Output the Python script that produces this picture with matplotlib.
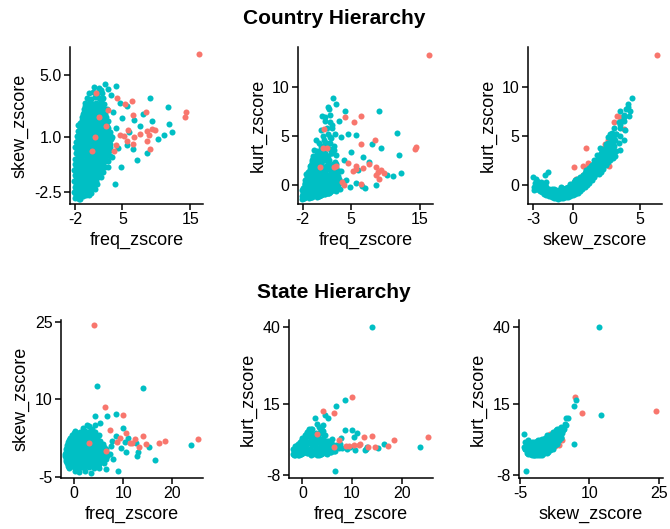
import matplotlib
matplotlib.use("Agg")
import matplotlib.pyplot as plt

plt.rcParams['font.family'] = ['Liberation Sans', 'DejaVu Sans']
plt.rcParams['axes.unicode_minus'] = False

TEAL = '#00BFC4'
SALMON = '#F8766D'

# ---- Country hierarchy: teal group (dense core + scattered) ----
country_teal_freq = [
    -2.0, -1.6, -1.2, -0.8, -1.4, -1.8,
    -2.1, -1.6, -1.1, -0.6, -0.1, 0.4,
    -2.0, -1.5, -1.0, -0.4, 0.2, 0.8, -1.2, -0.5,
    -2.1, -1.7, -1.2, -0.7, -0.1, 0.5, 1.1,
    -2.0, -1.4, -0.9, -0.3, 0.3, 0.9, 1.5,
    -2.1, -1.6, -1.1, -0.5, 0.1, 0.7, 1.3, 1.9,
    -2.0, -1.4, -0.8, -0.2, 0.4, 1.0, 1.6, 2.2,
    -2.0, -1.5, -0.9, -0.3, 0.3, 0.9, 1.5, 2.1, 2.6,
    -1.9, -1.3, -0.7, -0.1, 0.5, 1.1, 1.7, 2.3, 2.9,
    -2.0, -1.5, -0.9, -0.3, 0.3, 0.9, 1.5, 2.1, 2.7, 3.2,
    -1.8, -1.2, -0.6, 0.0, 0.6, 1.2, 1.8, 2.4, 3.0,
    -1.7, -1.1, -0.5, 0.1, 0.7, 1.3, 1.9, 2.5, 3.1,
    -1.6, -1.0, -0.4, 0.2, 0.8, 1.4, 2.0, 2.6, 3.2,
    -1.5, -0.9, -0.3, 0.3, 0.9, 1.5, 2.1, 2.7,
    -1.0, -0.5, 0.1, 0.6, 1.1, 1.7, 2.3, 2.9,
    -0.8, -0.2, 0.3, 0.8, 1.3, 1.9, 2.5,
    -0.6, 0.0, 0.5, 1.0, 1.5, 2.1, 2.7,
    -0.5, 0.1, 0.6, 1.1, 1.7, 2.3,
    -0.3, 0.3, 0.9, 1.5, 2.0,
    0.0, 0.7, 1.3, 2.0,
    0.8, 1.6,
    2.4, 4.1, 2.8, 1.8, 1.3, 2.2, 4.6, 5.7, 6.7, 8.1, 9.3, 11.7, 11.9, 12.3,
    11.1, 10.3, 8.7, 7.1, 6.6, 5.7, 3.9, 2.8, 9.0, 3.6, 4.0, 5.0, 3.5, 4.3,
    7.6, 6.0, 3.4, 4.8, 3.3,
]
country_teal_skew = [
    -2.9, -2.85, -2.95, -2.8, -3.0, -2.7,
    -2.5, -2.45, -2.55, -2.4, -2.5, -2.6,
    -2.2, -2.15, -2.25, -2.1, -2.2, -2.15, -1.9, -2.1,
    -1.8, -1.85, -1.75, -1.8, -1.85, -1.75, -1.8,
    -1.45, -1.5, -1.4, -1.45, -1.5, -1.4, -1.45,
    -1.1, -1.05, -1.15, -1.1, -1.05, -1.15, -1.1, -1.05,
    -0.75, -0.8, -0.7, -0.75, -0.8, -0.7, -0.75, -0.8,
    -0.4, -0.35, -0.45, -0.4, -0.35, -0.45, -0.4, -0.35, -0.45,
    0.0, 0.05, -0.05, 0.0, 0.05, -0.05, 0.0, 0.05, -0.05,
    0.35, 0.3, 0.4, 0.35, 0.3, 0.4, 0.35, 0.3, 0.4, 0.35,
    0.7, 0.75, 0.65, 0.7, 0.75, 0.65, 0.7, 0.75, 0.65,
    1.05, 1.0, 1.1, 1.05, 1.0, 1.1, 1.05, 1.0, 1.1,
    1.4, 1.45, 1.35, 1.4, 1.45, 1.35, 1.4, 1.45, 1.35,
    1.75, 1.7, 1.8, 1.75, 1.7, 1.8, 1.75, 1.7,
    2.1, 2.05, 2.15, 2.1, 2.05, 2.15, 2.1, 2.05,
    2.45, 2.5, 2.4, 2.45, 2.5, 2.4, 2.45,
    2.8, 2.75, 2.85, 2.8, 2.75, 2.85, 2.8,
    3.15, 3.2, 3.1, 3.15, 3.2, 3.1,
    3.5, 3.45, 3.55, 3.5, 3.45,
    3.85, 3.9, 3.8, 3.85,
    4.2, 4.15,
    4.4, 4.3, 4.1, 4.0, 3.8, 3.5, 3.2, 3.0, 2.1, 2.5, 2.0, 2.9, 1.8, 1.3,
    1.1, 0.9, -0.05, -0.5, 0.25, 0.5, -2.0, -0.9, 3.5, 2.6, 1.6, 2.2, 1.0, 0.3,
    1.7, 1.3, -0.3, -0.9, 3.7,
]
country_teal_kurt = [
    -0.5, 0.2, -0.2, 0.6, 0.8, -0.4,
    -0.5, 0.1, -0.3, 0.3, -0.6, 0.0,
    -0.9, -0.3, -0.7, 0.0, -0.5, -0.2, 1.3, 1.0,
    -1.1, -0.6, -1.0, -0.4, -0.8, -0.5, -0.9,
    -1.3, -0.8, -1.1, -0.6, -1.0, -0.4, -0.7,
    -1.4, -1.1, -1.3, -0.8, -1.2, -0.6, -0.9, -0.5,
    -1.3, -1.0, -1.2, -0.7, -1.1, -0.5, -0.8, -0.3,
    -1.2, -0.9, -1.1, -0.6, -0.9, -0.4, -0.7, -0.2, -0.5,
    -1.0, -0.7, -0.9, -0.3, -0.6, 0.0, -0.4, 0.3, -0.2,
    -0.8, -0.5, -0.6, 0.0, -0.3, 0.4, -0.1, 0.6, 0.1, 0.3,
    -0.4, 0.2, -0.2, 0.5, 0.0, 0.8, 0.3, 1.0, 0.4,
    0.0, 0.6, 0.2, 1.0, 0.4, 1.3, 0.7, 1.5, 0.9,
    0.5, 1.2, 0.7, 1.6, 0.9, 1.9, 1.1, 2.0, 1.4,
    1.1, 1.9, 1.3, 2.3, 1.5, 2.6, 1.8, 2.4,
    1.3, 1.6, 1.9, 2.3, 2.6, 3.0, 3.3, 3.1,
    2.0, 2.3, 2.6, 3.0, 3.3, 3.7, 4.0,
    2.6, 2.9, 3.3, 3.8, 4.3, 4.8, 5.2,
    3.0, 3.5, 4.0, 4.6, 5.2, 5.8,
    3.6, 4.3, 5.0, 5.8, 6.4,
    4.6, 5.6, 6.5, 7.2,
    7.0, 8.0,
    8.85, 7.6, 8.3, 7.8, 6.9, 6.1, 5.2, 5.1, 2.9, 4.2, 3.8, 5.3, 3.1, 1.2,
    0.9, 1.0, 0.0, -0.35, -0.1, 0.2, 0.3, -0.5, 7.6, 4.9, 2.6, 3.4, 1.4, 0.5,
    2.4, 1.5, -0.4, -0.2, 6.5,
]
# extra points that sit between the rows of the dense country core
country_fill_freq = [
    -1.9, -1.4, -0.9, -0.4, 0.1,
    -1.8, -1.3, -0.8, -0.2, 0.4, 1.0,
    -1.8, -1.4, -0.9, -0.3, 0.3, 0.9, 1.3,
    -1.9, -1.5, -1.0, -0.4, 0.2, 0.8, 1.4, 1.8,
    -1.8, -1.3, -0.8, -0.2, 0.4, 1.0, 1.6, 2.1,
    -1.8, -1.2, -0.6, 0.0, 0.6, 1.2, 1.8, 2.4,
    -1.7, -1.1, -0.5, 0.1, 0.7, 1.3, 1.9, 2.4, 2.9,
    -1.6, -1.0, -0.4, 0.2, 0.8, 1.4, 2.0, 2.6, 3.1,
    -1.7, -1.1, -0.5, 0.1, 0.7, 1.3, 1.9, 2.5, 3.1,
    -1.6, -1.0, -0.4, 0.2, 0.8, 1.4, 2.0, 2.6, 3.2,
    -1.5, -0.9, -0.3, 0.3, 0.9, 1.5, 2.1, 2.7, 3.3,
    -1.4, -0.8, -0.2, 0.4, 1.0, 1.6, 2.2, 2.8,
    -1.3, -0.7, -0.1, 0.5, 1.1, 1.7, 2.3, 2.9,
    -1.2, -0.6, 0.0, 0.6, 1.2, 1.8, 2.4,
    -0.9, -0.3, 0.3, 0.9, 1.5, 2.1, 2.6,
    -0.7, -0.1, 0.4, 0.9, 1.5, 2.0,
    -0.5, 0.1, 0.7, 1.3, 1.9,
]
country_fill_skew = [
    -2.7, -2.7, -2.7, -2.7, -2.7,
    -2.35, -2.35, -2.35, -2.35, -2.35, -2.35,
    -2.0, -2.0, -2.0, -2.0, -2.0, -2.0, -2.0,
    -1.6, -1.6, -1.6, -1.6, -1.6, -1.6, -1.6, -1.6,
    -1.25, -1.25, -1.25, -1.25, -1.25, -1.25, -1.25, -1.25,
    -0.9, -0.9, -0.9, -0.9, -0.9, -0.9, -0.9, -0.9,
    -0.55, -0.55, -0.55, -0.55, -0.55, -0.55, -0.55, -0.55, -0.55,
    -0.2, -0.2, -0.2, -0.2, -0.2, -0.2, -0.2, -0.2, -0.2,
    0.18, 0.18, 0.18, 0.18, 0.18, 0.18, 0.18, 0.18, 0.18,
    0.52, 0.52, 0.52, 0.52, 0.52, 0.52, 0.52, 0.52, 0.52,
    0.88, 0.88, 0.88, 0.88, 0.88, 0.88, 0.88, 0.88, 0.88,
    1.22, 1.22, 1.22, 1.22, 1.22, 1.22, 1.22, 1.22,
    1.58, 1.58, 1.58, 1.58, 1.58, 1.58, 1.58, 1.58,
    1.92, 1.92, 1.92, 1.92, 1.92, 1.92, 1.92,
    2.28, 2.28, 2.28, 2.28, 2.28, 2.28, 2.28,
    2.62, 2.62, 2.62, 2.62, 2.62, 2.62,
    2.98, 2.98, 2.98, 2.98, 2.98,
]
country_fill_kurt = [
    -0.3, 0.4, -0.1, 0.1, -0.4,
    -0.7, -0.1, -0.5, 0.2, -0.3, -0.6,
    -1.0, -0.4, -0.8, -0.2, -0.6, -0.3, -0.7,
    -1.2, -0.7, -1.1, -0.5, -0.9, -0.4, -0.8, -0.6,
    -1.35, -0.9, -1.2, -0.7, -1.1, -0.5, -0.8, -0.6,
    -1.3, -1.0, -1.2, -0.6, -1.0, -0.5, -0.8, -0.4,
    -1.2, -0.9, -1.1, -0.6, -1.0, -0.4, -0.7, -0.3, -0.6,
    -1.1, -0.8, -1.0, -0.4, -0.8, -0.2, -0.5, 0.1, -0.3,
    -0.9, -0.6, -0.8, -0.2, -0.5, 0.2, -0.2, 0.5, 0.0,
    -0.6, -0.2, -0.4, 0.2, -0.1, 0.6, 0.1, 0.8, 0.2,
    -0.2, 0.4, 0.0, 0.7, 0.2, 1.0, 0.5, 1.2, 0.6,
    0.2, 0.9, 0.4, 1.3, 0.6, 1.6, 0.9, 1.7,
    0.8, 1.5, 1.0, 1.9, 1.2, 2.2, 1.4, 2.1,
    1.1, 1.6, 1.6, 2.2, 1.8, 2.6, 2.1,
    1.6, 1.9, 2.2, 2.6, 2.9, 3.3, 3.6,
    2.3, 2.6, 3.0, 3.4, 3.9, 4.3,
    2.8, 3.2, 3.7, 4.3, 4.9,
]

# ---- Country hierarchy: salmon group ----
country_red_freq = [16.3, 1.1, 4.2, 6.4, 5.4, 8.5, 1.5, 6.5, 14.4, 14.3, 2.6, 3.7, 5.7, 6.7, 8.7,
                    9.4, 9.8, 8.9, 7.6, 8.7, 9.1, 5.3, 5.8, 6.5, 4.0, 4.6, 2.8, 1.0, 0.5]
country_red_skew = [6.3, 3.8, 3.5, 3.3, 3.1, 2.6, 2.3, 2.4, 2.6, 2.3, 1.7, 0.1, 0.75, 1.0, 1.4,
                    1.5, 1.45, 1.1, 1.2, 0.75, 0.2, 1.05, 1.45, 0.55, 0.5, 1.1, 2.7, 1.0, 0.1]
country_red_kurt = [13.3, 5.7, 6.9, 7.1, 6.4, 4.6, 3.8, 4.2, 3.9, 3.7, 1.8, 0.3, 1.9, 1.7, 1.8,
                    1.5, 1.2, 1.3, 2.1, 1.0, 0.6, 1.4, 1.6, 0.1, 0.0, 2.2, 1.9, 3.8, 1.8]

# ---- State hierarchy: teal group ----
state_teal_freq = [
    1.0, 2.3, 3.5, 0.2,
    -1.0, 0.0, 1.0, 2.0, 3.0, 4.0, 5.0,
    -1.5, -0.6, 0.4, 1.3, 2.2, 3.1, 4.0, 5.0, 6.0,
    -1.7, -0.8, 0.1, 1.0, 1.9, 2.8, 3.7, 4.6, 5.5, 6.5,
    -1.8, -0.9, 0.0, 0.9, 1.8, 2.7, 3.6, 4.5, 5.4, 6.4, 7.3,
    -1.6, -0.7, 0.2, 1.1, 2.0, 2.9, 3.8, 4.7, 5.6, 6.6,
    -1.4, -0.5, 0.4, 1.3, 2.2, 3.1, 4.0, 4.9, 5.9,
    -1.0, -0.1, 0.8, 1.7, 2.6, 3.5, 4.4, 5.3,
    -0.5, 0.5, 1.4, 2.3, 3.2, 4.1, 5.0,
    0.3, 1.3, 2.3, 3.3, 4.3,
    0.5, 1.5, 2.5, 0.8, 3.3, 2.4, -0.3, 1.6, 3.4, 4.2, -0.2, 2.8,
    1.8, 3.0, 3.6,
    14.0, 4.6, 5.2, 2.6, 6.8, 8.6, 6.5, 4.2, 9.0, 10.0, 8.5, 11.0, 12.6, 12.8,
    13.1, 15.3, 16.4, 23.7, 10.6, 10.4, 4.2, 7.5, 8.0, 7.8, 9.5,
]
state_teal_skew = [
    -4.1, -3.9, -4.2, -3.8,
    -3.3, -3.2, -3.4, -3.3, -3.2, -3.4, -3.3,
    -2.4, -2.5, -2.3, -2.4, -2.5, -2.3, -2.4, -2.5, -2.3,
    -1.5, -1.6, -1.4, -1.5, -1.6, -1.4, -1.5, -1.6, -1.4, -1.5,
    -0.6, -0.7, -0.5, -0.6, -0.7, -0.5, -0.6, -0.7, -0.5, -0.6, -0.7,
    0.3, 0.2, 0.4, 0.3, 0.2, 0.4, 0.3, 0.2, 0.4, 0.3,
    1.2, 1.1, 1.3, 1.2, 1.1, 1.3, 1.2, 1.1, 1.3,
    2.1, 2.0, 2.2, 2.1, 2.0, 2.2, 2.1, 2.0,
    3.0, 2.9, 3.1, 3.0, 2.9, 3.1, 3.0,
    3.8, 3.7, 3.9, 3.8, 3.7,
    -2.0, -1.0, -0.1, 0.8, -2.0, -1.1, -1.1, 0.7, 0.8, -1.0, 1.7, 1.6,
    4.5, 4.8, 4.2,
    12.2, 12.5, 5.4, 5.0, 6.7, 7.2, -3.6, 6.8, -3.9, 4.4, 2.8, 2.5, 1.5, -0.9,
    -0.3, 0.7, -1.8, 1.1, -0.3, 1.8, 5.0, 1.0, -1.5, 2.0, 0.5,
]
state_teal_kurt = [
    5.2, 2.6, 1.2, 0.3,
    0.2, 3.5, -1.0, 2.0, -0.3, 1.0, -1.2,
    -1.4, 1.0, -0.5, 2.8, -1.2, 0.4, 1.8, -0.8, 0.0,
    -1.5, 0.3, -1.0, 2.2, -0.4, 3.0, -1.3, 1.0, -0.2, 0.8,
    -1.2, 1.5, -0.6, 2.5, -1.4, 0.5, 3.2, -0.9, 1.2, -0.3, 0.6,
    -0.8, 1.0, 3.0, -1.0, 1.8, 4.0, 0.2, 2.5, -0.5, 1.2,
    0.0, 2.8, 1.2, 4.5, -0.5, 3.5, 1.5, 0.5, 2.2,
    1.5, 4.0, 0.5, 5.5, 2.5, 6.0, 1.0, 3.0,
    2.5, 5.0, 7.0, 2.2, 4.2, 6.2, 3.0,
    4.0, 6.5, 4.2, 7.5, 5.0,
    0.8, -0.8, 2.0, 0.3, -1.4, 1.6, -1.3, 2.9, -0.3, 0.2, 2.0, 3.8,
    7.0, 8.6, 5.6,
    40.1, 11.3, 10.4, 10.6, 14.4, 16.3, -6.6, 2.2, 0.5, 6.6, 6.6, 5.7, 0.1, 0.3,
    1.0, 0.6, 2.0, 1.1, 0.1, 4.4, 8.2, 2.0, 0.8, 4.0, 1.2,
]
# extra points between the rows of the dense state core
state_fill_freq = [
    -1.2, -0.2, 0.8, 1.8, 2.8, 3.8, 4.8,
    -1.6, -0.7, 0.3, 1.2, 2.1, 3.0, 4.0, 5.0, 5.8,
    -1.8, -0.8, 0.1, 1.0, 1.9, 2.9, 3.8, 4.8, 5.8, 6.8,
    -1.7, -0.8, 0.1, 1.0, 1.9, 2.8, 3.7, 4.6, 5.6, 6.6,
    -1.5, -0.6, 0.3, 1.2, 2.1, 3.0, 4.0, 5.0, 6.0,
    -1.2, -0.3, 0.6, 1.5, 2.4, 3.3, 4.2, 5.1,
    -0.8, 0.1, 1.0, 1.9, 2.8, 3.7, 4.6,
    0.0, 1.0, 2.0, 3.0, 4.0,
]
state_fill_skew = [
    -2.85, -2.85, -2.85, -2.85, -2.85, -2.85, -2.85,
    -1.95, -1.95, -1.95, -1.95, -1.95, -1.95, -1.95, -1.95, -1.95,
    -1.05, -1.05, -1.05, -1.05, -1.05, -1.05, -1.05, -1.05, -1.05, -1.05,
    -0.15, -0.15, -0.15, -0.15, -0.15, -0.15, -0.15, -0.15, -0.15, -0.15,
    0.75, 0.75, 0.75, 0.75, 0.75, 0.75, 0.75, 0.75, 0.75,
    1.65, 1.65, 1.65, 1.65, 1.65, 1.65, 1.65, 1.65,
    2.55, 2.55, 2.55, 2.55, 2.55, 2.55, 2.55,
    3.4, 3.4, 3.4, 3.4, 3.4,
]
state_fill_kurt = [
    1.5, -1.3, 2.5, 0.0, -0.8, 2.2, 0.5,
    0.0, -1.5, 1.8, -0.6, 2.6, 0.8, -1.0, 0.3, 1.6,
    0.5, -1.2, 1.2, -0.2, 3.5, -1.5, 0.9, 2.0, -0.7, 1.8,
    0.2, -1.5, 1.8, -0.4, 3.6, 1.0, -1.1, 0.6, 2.8, -0.2,
    1.5, -0.9, 0.6, 2.8, -0.2, 5.0, 3.0, 1.0, 3.8,
    1.0, 2.2, 3.8, 0.4, 4.8, 2.6, 4.0, 1.8,
    2.0, 3.8, 6.0, 1.6, 5.5, 3.5, 4.8,
    3.5, 5.5, 7.0, 4.5, 6.5,
]

# ---- State hierarchy: salmon group ----
state_red_freq = [4.1, 10.0, 6.3, 7.4, 3.0, 10.5, 11.7, 12.4, 14.1, 14.6, 17.2, 18.5, 25.2,
                  6.4, 8.8, 11.4, 13.3, 9.3]
state_red_skew = [24.4, 7.0, 8.5, 4.1, 1.6, 3.5, 1.6, 2.2, 2.8, 1.4, 1.6, 2.0, 2.2,
                  0.0, 1.8, 1.6, 0.8, 2.5]
state_red_kurt = [12.7, 17.2, 12.2, 3.3, 5.3, 1.7, 2.2, 4.4, 4.6, 1.1, 1.5, 3.5, 4.2,
                  1.1, 1.4, 1.7, 1.1, 1.4]

W, H = 670, 529
fig = plt.figure(figsize=(W / 100, H / 100), dpi=100)


def make_ax(left, right, top, bottom):
    return fig.add_axes([left / W, 1 - bottom / H, (right - left) / W, (bottom - top) / H])


def panel(ax, xt, yt, xr, yr, xlim, ylim, xticks, yticks, xlab, ylab,
          ylabels=None, red_on_top=True):
    ax.scatter(xt, yt, s=19, color=TEAL, linewidths=0, zorder=2)
    ax.scatter(xr, yr, s=19, color=SALMON, linewidths=0, zorder=3 if red_on_top else 1)
    ax.set_xlim(*xlim)
    ax.set_ylim(*ylim)
    ax.set_xticks(xticks)
    ax.set_yticks(yticks)
    if ylabels is not None:
        ax.set_yticklabels(ylabels)
    ax.set_xlabel(xlab, fontsize=13, labelpad=3)
    ax.set_ylabel(ylab, fontsize=13, labelpad=4)
    for side in ('top', 'right'):
        ax.spines[side].set_visible(False)
    for side in ('left', 'bottom'):
        ax.spines[side].set_linewidth(1.1)
    ax.tick_params(labelsize=11.5, length=4, width=1.1, pad=2, colors='black')


cf = country_teal_freq + country_fill_freq
cs = country_teal_skew + country_fill_skew
ck = country_teal_kurt + country_fill_kurt
sf = state_teal_freq + state_fill_freq
ss = state_teal_skew + state_fill_skew
sk = state_teal_kurt + state_fill_kurt

# top row: country hierarchy
ax = make_ax(70, 203, 47, 204)
panel(ax, cf, cs, country_red_freq, country_red_skew, (-2.74, 16.9), (-3.3, 6.77),
      [-2, 5, 15], [-2.5, 1.0, 5.0], 'freq_zscore', 'skew_zscore', ['-2.5', '1.0', '5.0'])
ax = make_ax(298, 433, 47, 204)
panel(ax, cf, ck, country_red_freq, country_red_kurt, (-2.68, 16.9), (-1.94, 14.1),
      [-2, 5, 15], [0, 5, 10], 'freq_zscore', 'kurt_zscore')
ax = make_ax(528, 662, 47, 204)
panel(ax, cs, ck, country_red_skew, country_red_kurt, (-3.38, 6.69), (-1.94, 14.1),
      [-3, 0, 5], [0, 5, 10], 'skew_zscore', 'kurt_zscore', red_on_top=False)

# bottom row: state hierarchy
ax = make_ax(61, 203, 320, 478)
panel(ax, sf, ss, state_red_freq, state_red_skew, (-2.64, 26.2), (-5.25, 25.3),
      [0, 10, 20], [-5, 10, 25], 'freq_zscore', 'skew_zscore')
ax = make_ax(289, 433, 320, 478)
panel(ax, sf, sk, state_red_freq, state_red_kurt, (-2.68, 26.3), (-9.0, 42.3),
      [0, 10, 20], [-8, 15, 40], 'freq_zscore', 'kurt_zscore')
ax = make_ax(519, 663, 320, 478)
panel(ax, ss, sk, state_red_skew, state_red_kurt, (-5.2, 25.95), (-9.0, 42.3),
      [-5, 10, 25], [-8, 15, 40], 'skew_zscore', 'kurt_zscore', red_on_top=False)

fig.text(334 / W, 1 - 18 / H, 'Country Hierarchy', ha='center', va='center',
         fontsize=15, fontweight='bold')
fig.text(334 / W, 1 - 292 / H, 'State Hierarchy', ha='center', va='center',
         fontsize=15, fontweight='bold')

fig.savefig('out.png', dpi=100, facecolor='white')
